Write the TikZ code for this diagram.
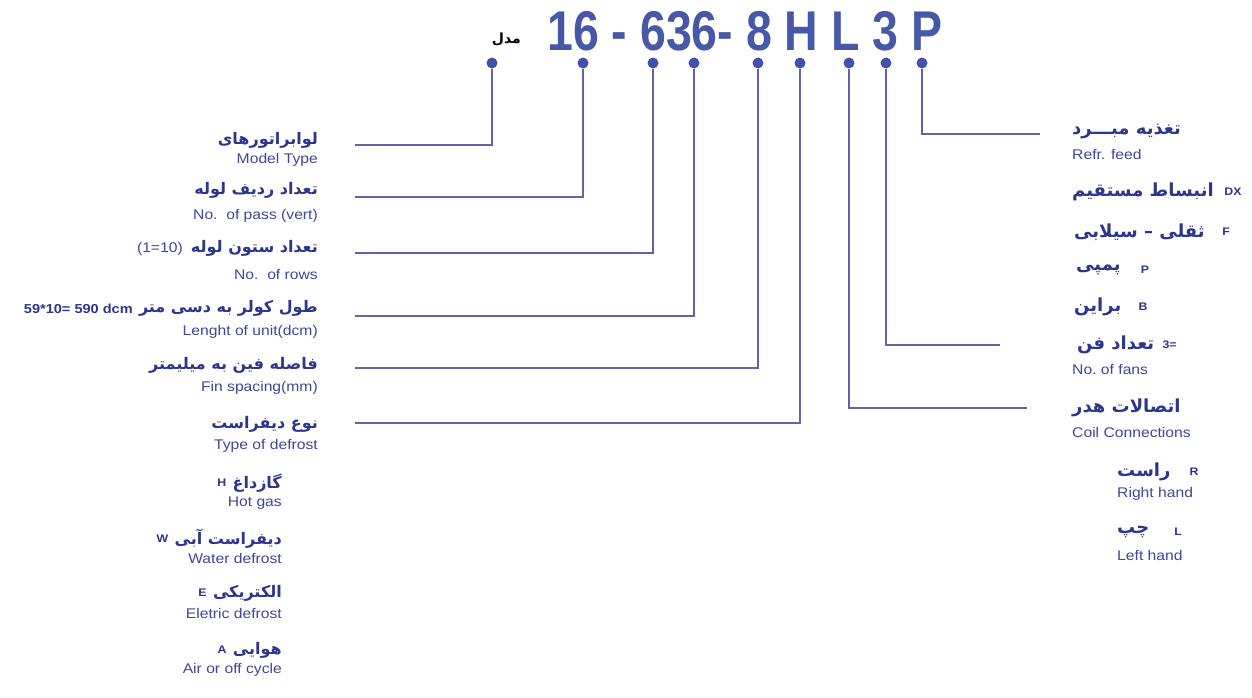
\documentclass[tikz,border=0pt]{standalone}
\usepackage{fontspec}
\setmainfont{Liberation Sans}
\newfontfamily\fa[Script=Arabic]{DejaVu Sans}
\newfontfamily\en[FakeStretch=1.12]{Liberation Sans}
\newfontfamily\ttl[FakeStretch=0.83]{Liberation Sans}
\TeXXeTstate=1
\definecolor{ttlc}{RGB}{72,88,168}
\definecolor{linec}{RGB}{98,100,170}
\definecolor{dotc}{RGB}{66,82,172}
\definecolor{txtc}{RGB}{44,54,140}
\definecolor{entc}{RGB}{62,72,150}
\tikzset{
  dotn/.style={circle,fill=dotc,draw=none,minimum size=11pt,inner sep=0pt},
  conn/.style={draw=linec,line width=2.2pt},
  fat/.style={font=\fa\bfseries\fontsize{16}{18}\selectfont,text=txtc,inner sep=0pt},
  fatr/.style={font=\fa\bfseries\fontsize{18}{20}\selectfont,text=txtc,inner sep=0pt},
  ent/.style={font=\en\fontsize{14}{16}\selectfont,text=entc,inner sep=0pt},
  codet/.style={font=\en\bfseries\fontsize{11}{13}\selectfont,text=txtc,inner sep=0pt},
  ttlt/.style={font=\ttl\bfseries\fontsize{56}{60}\selectfont,text=ttlc,inner sep=0pt},
}
\begin{document}
\begin{tikzpicture}[x=1pt,y=-1pt]
\useasboundingbox (0,0) rectangle (1252,697);
\fill[white] (0,0) rectangle (1252,697);

% title
\node[ttlt,anchor=base west] (title) at (547,50) {16 - 636- 8 H L 3 P};
\node[font=\fa\bfseries\fontsize{14}{16}\selectfont,inner sep=0pt,anchor=east] (model) at (521,39) {\beginR مدل\endR};

% dots
\node[dotn] (d1) at (492,63) {};
\node[dotn] (d2) at (583,63) {};
\node[dotn] (d3) at (653,63) {};
\node[dotn] (d4) at (694,63) {};
\node[dotn] (d5) at (758,63) {};
\node[dotn] (d6) at (800,63) {};
\node[dotn] (d7) at (849,63) {};
\node[dotn] (d8) at (886,63) {};
\node[dotn] (d9) at (922,63) {};

% line ends
\coordinate (e1) at (355,145);
\coordinate (e2) at (355,197);
\coordinate (e3) at (355,253);
\coordinate (e4) at (355,316);
\coordinate (e5) at (355,368);
\coordinate (e6) at (355,423);
\coordinate (e7) at (1027,408);
\coordinate (e8) at (1000,345);
\coordinate (e9) at (1040,134);

\draw[conn] (d1) |- (e1);
\draw[conn] (d2) |- (e2);
\draw[conn] (d3) |- (e3);
\draw[conn] (d4) |- (e4);
\draw[conn] (d5) |- (e5);
\draw[conn] (d6) |- (e6);
\draw[conn] (d7) |- (e7);
\draw[conn] (d8) |- (e8);
\draw[conn] (d9) |- (e9);

% left labels
\node[fat,anchor=east] (t1) at (318,140) {\beginR لوابراتورهای\endR};
\node[ent,anchor=east] (t1e) at (318,160) {Model Type};
\node[fat,anchor=east] (t2) at (318,190) {\beginR تعداد ردیف لوله\endR};
\node[ent,anchor=east] (t2e) at (318,216) {No.\ \ of pass (vert)};
\node[fat,anchor=east] (t3) at (318,248) {\beginR تعداد ستون لوله\endR};
\node[ent,anchor=east] (t3n) at (183,249) {(1=10)};
\node[ent,anchor=east] (t3e) at (318,274) {No.\ \ of rows};
\node[fat,anchor=east] (t4) at (318,308) {\beginR طول کولر به دسی متر\endR};
\node[ent,font=\en\bfseries\fontsize{13}{15}\selectfont,text=txtc,anchor=east] (t4n) at (133,309) {59*10= 590 dcm};
\node[ent,anchor=east] (t4e) at (318,332) {Lenght of unit(dcm)};
\node[fat,anchor=east] (t5) at (318,365) {\beginR فاصله فین به میلیمتر\endR};
\node[ent,anchor=east] (t5e) at (318,388) {Fin spacing(mm)};
\node[fat,anchor=east] (t6) at (318,424) {\beginR نوع دیفراست\endR};
\node[ent,anchor=east] (t6e) at (318,446) {Type of defrost};

\node[fat,anchor=east] (h1) at (282,483) {\beginR گازداغ\endR};
\node[codet,anchor=east] (h1c) at ([xshift=-6pt]h1.west) {H};
\node[ent,anchor=east] (h1e) at (282,503) {Hot gas};
\node[fat,anchor=east] (h2) at (282,539) {\beginR دیفراست آبی\endR};
\node[codet,anchor=east] (h2c) at ([xshift=-6pt]h2.west) {W};
\node[ent,anchor=east] (h2e) at (282,558) {Water defrost};
\node[fat,anchor=east] (h3) at (282,593) {\beginR الکتریکی\endR};
\node[codet,anchor=east] (h3c) at ([xshift=-6pt]h3.west) {E};
\node[ent,anchor=east] (h3e) at (282,613) {Eletric defrost};
\node[fat,anchor=east] (h4) at (282,650) {\beginR هوایی\endR};
\node[codet,anchor=east] (h4c) at ([xshift=-6pt]h4.west) {A};
\node[ent,anchor=east] (h4e) at (282,670) {Air or off cycle};

% right labels
\node[fatr,anchor=west] (r1) at (1072,131) {\beginR تغذیه مبـــرد\endR};
\node[ent,anchor=west] (r1e) at (1072,154) {Refr. feed};
\node[fatr,anchor=west] (r2) at (1072,192) {\beginR انبساط مستقیم\endR};
\node[codet] (r2c) at (1233,192) {DX};
\node[fatr,anchor=west] (r3) at (1074,232) {\beginR ثقلی – سیلابی\endR};
\node[codet] (r3c) at (1226,232) {F};
\node[fatr,anchor=west] (r4) at (1076,270) {\beginR پمپی\endR};
\node[codet] (r4c) at (1145,270) {P};
\node[fatr,anchor=west] (r5) at (1074,307) {\beginR براین\endR};
\node[codet] (r5c) at (1143,307) {B};
\node[fatr,anchor=west] (r6) at (1077,345) {\beginR تعداد فن\endR};
\node[codet,anchor=west] (r6c) at ([xshift=8pt]r6.east) {3=};
\node[ent,anchor=west] (r6e) at (1072,369) {No.\ of fans};
\node[fatr,anchor=west] (r7) at (1072,408) {\beginR اتصالات هدر\endR};
\node[ent,anchor=west] (r7e) at (1072,432) {Coil Connections};
\node[fatr,anchor=west] (r8) at (1117,472) {\beginR راست\endR};
\node[codet] (r8c) at (1194,472) {R};
\node[ent,anchor=west] (r8e) at (1117,494) {Right hand};
\node[fatr,anchor=west] (r9) at (1117,532) {\beginR چپ\endR};
\node[codet] (r9c) at (1178,532) {L};
\node[ent,anchor=west] (r9e) at (1117,555) {Left hand};
\end{tikzpicture}
\end{document}
